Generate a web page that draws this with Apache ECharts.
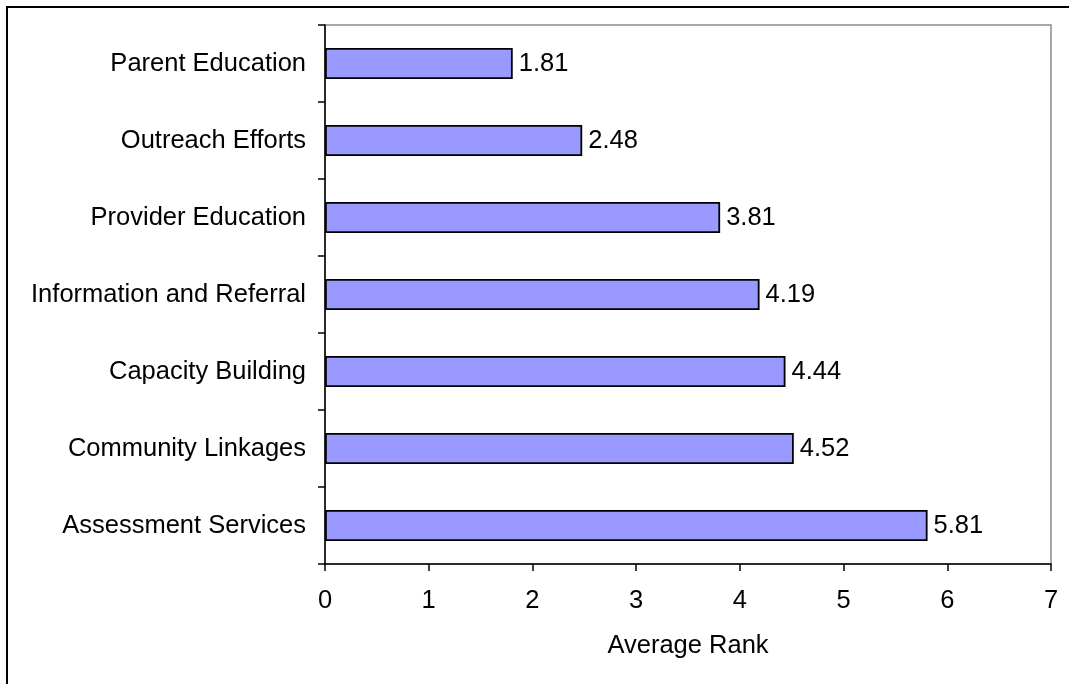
<!DOCTYPE html>
<html>
<head>
<meta charset="utf-8">
<style>
  html, body { margin: 0; padding: 0; background: #fff; }
  #chart { width: 1069px; height: 684px; }
</style>
<script src="https://cdn.jsdelivr.net/npm/echarts@6/dist/echarts.min.js"></script>
</head>
<body>
<div id="chart"></div>
<script>
// Program areas, listed top to bottom
const categories = [
  'Parent Education',
  'Outreach Efforts',
  'Provider Education',
  'Information and Referral',
  'Capacity Building',
  'Community Linkages',
  'Assessment Services'
];
// Average rank per program area
const averageRank = [1.81, 2.48, 3.81, 4.19, 4.44, 4.52, 5.81];
const axisTitle = 'Average Rank';

const FONT = 'Liberation Sans, Arial, sans-serif';
const FS = 25.5;
const chart = echarts.init(document.getElementById('chart'), null, { renderer: 'canvas' });

chart.setOption({
  animation: false,
  backgroundColor: '#ffffff',
  textStyle: { fontFamily: FONT },
  graphic: [{
    type: 'rect',
    shape: { x: 7, y: 7, width: 1200, height: 800 },
    style: { fill: 'none', stroke: '#000', lineWidth: 2 },
    silent: true
  }],
  grid: {
    left: 325, top: 25, right: 18, bottom: 120,
    show: true, borderColor: '#8c8c8c', borderWidth: 1.5, backgroundColor: 'transparent'
  },
  xAxis: {
    type: 'value',
    min: 0, max: 7, interval: 1,
    splitLine: { show: false },
    axisLine: { show: true, lineStyle: { color: '#000', width: 1.5 } },
    axisTick: { show: true, inside: false, length: 7, lineStyle: { color: '#000', width: 1.5 } },
    axisLabel: { color: '#000', fontSize: FS, margin: 24, fontFamily: FONT },
    name: axisTitle,
    nameLocation: 'middle',
    nameGap: 69,
    nameTextStyle: { color: '#000', fontSize: FS, fontFamily: FONT }
  },
  yAxis: {
    type: 'category',
    data: categories,
    inverse: true,
    axisLine: { show: true, lineStyle: { color: '#000', width: 1.5 } },
    axisTick: { show: true, inside: false, length: 7, lineStyle: { color: '#000', width: 1.5 } },
    axisLabel: { color: '#000', fontSize: FS, margin: 19, fontFamily: FONT }
  },
  series: [{
    type: 'bar',
    data: averageRank,
    barWidth: 31,
    itemStyle: { color: '#9999ff', borderColor: '#000', borderWidth: 1.8 },
    label: {
      show: true, position: 'right', distance: 6,
      color: '#000', fontSize: FS, fontFamily: FONT,
      formatter: p => p.value.toFixed(2)
    }
  }]
});
</script>
</body>
</html>
